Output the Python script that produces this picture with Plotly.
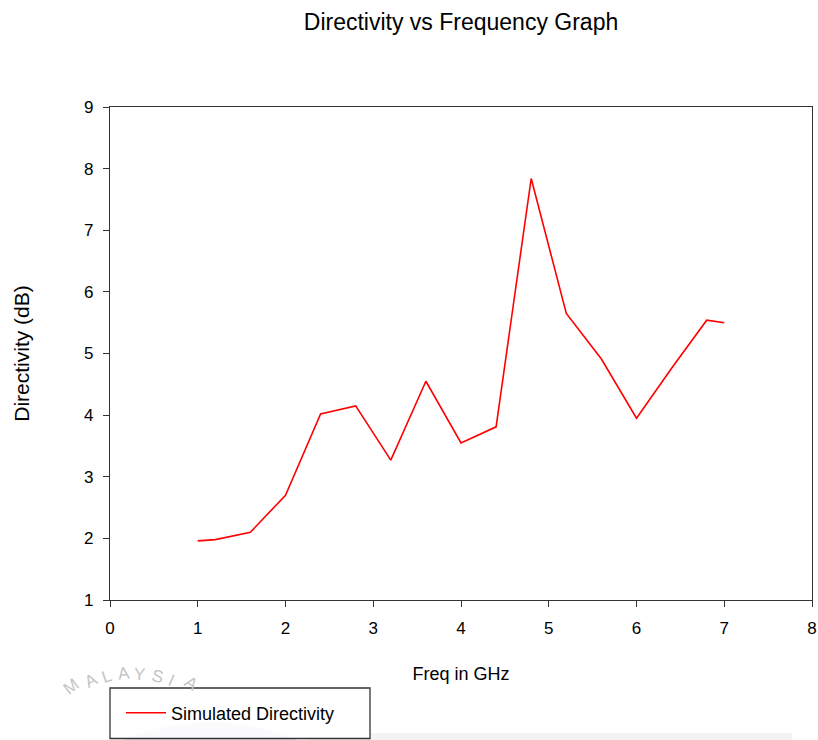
import plotly.graph_objects as go

# Frequency sweep (GHz) and simulated directivity (dB)
freq_ghz = [1.0, 1.2, 1.6, 2.0, 2.4, 2.8, 3.2, 3.6, 4.0, 4.4, 4.8, 5.2, 5.6, 6.0, 6.4, 6.8, 7.0]
directivity_db = [1.96, 1.98, 2.10, 2.70, 4.02, 4.15, 3.27, 4.55, 3.55, 3.81, 7.84, 5.65, 4.91, 3.95, 4.76, 5.54, 5.50]

x_ticks = [0, 1, 2, 3, 4, 5, 6, 7, 8]
y_ticks = [1, 2, 3, 4, 5, 6, 7, 8, 9]

title_text = "Directivity vs Frequency Graph"
x_title = "Freq in GHz"
y_title = "Directivity (dB)"
series_name = "Simulated Directivity"

W, H = 818, 740
L, R, T, B = 110, 6, 107, 140
pw, ph = W - L - R, H - T - B


def px(xp):
    return (xp - L) / pw


def py(yp):
    return (H - B - yp) / ph


FONT = "Liberation Sans, Arial, sans-serif"
AXC = "#333333"

fig = go.Figure()
fig.add_trace(go.Scatter(
    x=freq_ghz, y=directivity_db, mode="lines", name=series_name,
    line=dict(color="#ff0000", width=1.6),
))

axis_common = dict(
    showgrid=False, zeroline=False, showline=True, linecolor=AXC, linewidth=1.3,
    mirror=True, ticks="outside", ticklen=6, tickwidth=1.3, tickcolor=AXC,
    tickfont=dict(family=FONT, size=17, color="#000"), automargin=False,
)

fig.update_xaxes(range=[0, 8], tickvals=x_ticks, ticktext=[str(v) for v in x_ticks],
                 ticklabelstandoff=6,
                 title=dict(text=x_title, font=dict(family=FONT, size=18, color="#000"), standoff=30),
                 **axis_common)
fig.update_yaxes(range=[1, 9], tickvals=y_ticks, ticktext=[str(v) for v in y_ticks],
                 ticklabelstandoff=6,
                 title=dict(text=y_title, font=dict(family=FONT, size=21, color="#000"), standoff=48),
                 **axis_common)

# faint watermark lettering under the legend
wm_letters = [("M", 57, 701, -38), ("A", 79, 694, -28), ("L", 97, 689, -18), ("A", 114, 686, -8),
              ("Y", 131, 686, 4), ("S", 147, 689, 14), ("I", 163, 693, 24), ("A", 178, 698, 34)]
annotations = []
for ch, xx, yy, rot in wm_letters:
    annotations.append(dict(text=ch, x=px(xx), y=py(yy), xref="paper", yref="paper",
                            showarrow=False, textangle=rot,
                            font=dict(family=FONT, size=17, color="#c4c4c4")))

shapes = [
    dict(type="circle", xref="paper", yref="paper", layer="below",
         x0=px(-10), x1=px(430), y0=py(722), y1=py(1162),
         fillcolor="#e1e5ed", line=dict(width=0)),
    dict(type="rect", xref="paper", yref="paper", layer="below",
         x0=px(310), x1=px(792), y0=py(733), y1=py(742),
         fillcolor="#f3f3f3", line=dict(width=0)),
    # legend frame
    dict(type="rect", xref="paper", yref="paper",
         x0=px(110), x1=px(370), y0=py(688), y1=py(738.5),
         line=dict(color=AXC, width=1.3), fillcolor="rgba(255,255,255,0.85)", layer="below"),
]

fig.update_layout(
    width=W, height=H,
    margin=dict(l=L, r=R, t=T, b=B, autoexpand=False),
    paper_bgcolor="white", plot_bgcolor="white",
    title=dict(text=title_text, x=0.5, xref="paper", y=1 - 22 / H, yref="container",
               yanchor="middle", font=dict(family=FONT, size=23, color="#000")),
    showlegend=True,
    legend=dict(x=px(121), y=py(713), xanchor="left", yanchor="middle",
                bgcolor="rgba(0,0,0,0)", borderwidth=0, itemwidth=40,
                font=dict(family=FONT, size=18, color="#000")),
    annotations=annotations,
    shapes=shapes,
)

fig.write_html("out.html")
